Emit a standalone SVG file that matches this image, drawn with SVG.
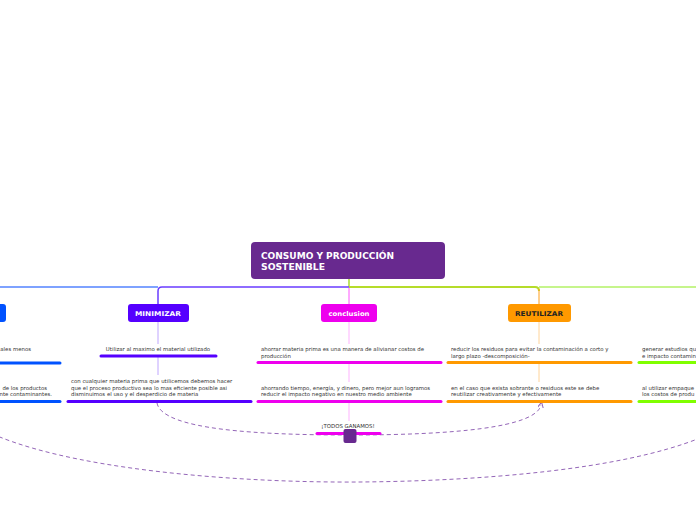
<svg xmlns="http://www.w3.org/2000/svg" width="696" height="520" viewBox="0 0 696 520">
<style>
.t{font-family:"DejaVu Sans","Liberation Sans",Arial,sans-serif;font-size:5.4px;fill:#333}
.n{font-family:"DejaVu Sans","Liberation Sans",Arial,sans-serif;font-weight:bold;font-size:6.6px;fill:#fff;text-anchor:middle}
.h{font-family:"DejaVu Sans","Liberation Sans",Arial,sans-serif;font-weight:bold;font-size:8.4px;fill:#fff}
.bar{stroke-width:3;stroke-linecap:round;fill:none}
.v{stroke-width:1;fill:none}
.dash{fill:none;stroke:#9466b8;stroke-width:1;stroke-dasharray:4,3}
</style>
<defs>
<marker id="ah" markerWidth="6" markerHeight="6" refX="3" refY="3" orient="auto" markerUnits="userSpaceOnUse">
<path d="M0,0 L6,3 L0,6" fill="none" stroke="#9466b8" stroke-width="1"/>
</marker>
</defs>
<rect width="696" height="520" fill="#fff"/>
<g id="connectors">
<path d="M349,279 V287" stroke="#a8d830" stroke-width="1.5" fill="none"/>
<path d="M0,287 H158" stroke="#7ea2ff" stroke-width="2" fill="none"/>
<path d="M349,287 H162 Q158,287 158,291 V304" stroke="#6a3cff" stroke-width="1.5" fill="none"/>
<path d="M349,287 H535 Q539,287 539,291" stroke="#b5dc2a" stroke-width="2" fill="none"/>
<path d="M539,289 V304" stroke="#ff9f1a" stroke-width="1" fill="none"/>
<path d="M539,287 H696" stroke="#c6f58c" stroke-width="2" fill="none"/>
<path d="M349,288 V304" stroke="#ff55ff" stroke-width="1" fill="none"/>
<path class="v" d="M158,322 V344" stroke="#bfa6ff"/>
<path class="v" d="M158,357 V375" stroke="#bfa6ff"/>
<path class="v" d="M349,322 V344" stroke="#ffb3ff"/>
<path class="v" d="M349,363 V382" stroke="#ffb3ff"/>
<path class="v" d="M349,402 V421" stroke="#ffb3ff"/>
<path class="v" d="M539,322 V344" stroke="#ffd49a"/>
<path class="v" d="M539,363 V382" stroke="#ffd49a"/>
<path class="dash" d="M157,403 C162,430 260,435 350,435 C450,435 536,428 541,405" marker-end="url(#ah)"/>
<path class="dash" d="M-20,428 C60,470 240,483 360,482 C480,481 620,470 700,438"/>
</g>
<g id="root">
<rect x="251" y="242" width="194" height="37" rx="4" fill="#68298f"/>
<text class="h" x="261" y="259" textLength="133" lengthAdjust="spacingAndGlyphs">CONSUMO Y PRODUCCIÓN</text>
<text class="h" x="261" y="270" textLength="64" lengthAdjust="spacingAndGlyphs">SOSTENIBLE</text>
</g>
<g id="node-left">
<rect x="-40" y="304" width="46" height="18" rx="3" fill="#0052ff"/>
<text class="t" x="31" y="351" text-anchor="end">ales menos</text>
<path class="bar" d="M-5,363 H60" stroke="#0052ff"/>
<text class="t" x="47" y="390" text-anchor="end">de los productos</text>
<text class="t" x="52" y="396" text-anchor="end">nte contaminantes.</text>
<path class="bar" d="M-5,401.5 H60" stroke="#0052ff"/>
</g>
<g id="node-minimizar">
<rect x="128" y="304" width="61" height="18" rx="3" fill="#5500ff"/>
<text class="n" x="158" y="316" textLength="46" lengthAdjust="spacingAndGlyphs">MINIMIZAR</text>
<text class="t" x="158" y="351" text-anchor="middle">Utilizar al maximo el material utilizado</text>
<path class="bar" d="M101,356 H216" stroke="#5500ff"/>
<text class="t" x="71" y="383">con cualquier materia prima que utilicemos debemos hacer</text>
<text class="t" x="71" y="390">que el proceso productivo sea lo mas eficiente posible asi</text>
<text class="t" x="71" y="396">disminuimos el uso y el desperdicio de materia</text>
<path class="bar" d="M68,401.5 H251" stroke="#5500ff"/>
</g>
<g id="node-conclusion">
<rect x="321" y="304" width="56" height="18" rx="3" fill="#ee00ee"/>
<text class="n" x="349" y="316" textLength="41" lengthAdjust="spacingAndGlyphs">conclusion</text>
<text class="t" x="261" y="351">ahorrar materia prima es una manera de alivianar costos de</text>
<text class="t" x="261" y="358">producción</text>
<path class="bar" d="M258,362.5 H441" stroke="#ee00ee"/>
<text class="t" x="261" y="390">ahorrando tiempo, energía, y dinero, pero mejor aun logramos</text>
<text class="t" x="261" y="396">reducir el impacto negativo en nuestro medio ambiente</text>
<path class="bar" d="M258,401.5 H441" stroke="#ee00ee"/>
</g>
<g id="node-todos">
<text class="t" x="348" y="428" text-anchor="middle">¡TODOS GANAMOS!</text>
<path class="bar" d="M317,433.5 H380" stroke="#ee00ee"/>
<rect x="343.5" y="429" width="13" height="14" rx="2" fill="#68298f"/>
</g>
<g id="node-reutilizar">
<rect x="508" y="304" width="63" height="18" rx="3" fill="#ff9900"/>
<text class="n" x="539" y="316" textLength="48" lengthAdjust="spacingAndGlyphs" style="fill:#222">REUTILIZAR</text>
<text class="t" x="451" y="351">reducir los residuos para evitar la contaminación a corto y</text>
<text class="t" x="451" y="358">largo plazo -descomposición-</text>
<path class="bar" d="M448,362.5 H631" stroke="#ff9900"/>
<text class="t" x="451" y="390">en el caso que exista sobrante o residuos este se debe</text>
<text class="t" x="451" y="396">reutilizar creativamente y efectivamente</text>
<path class="bar" d="M448,401.5 H631" stroke="#ff9900"/>
</g>
<g id="node-right">
<text class="t" x="642" y="351">generar estudios qu</text>
<text class="t" x="642" y="358">e impacto contamin</text>
<path class="bar" d="M639,362.5 H700" stroke="#80ff00"/>
<text class="t" x="642" y="390">al utilizar empaque</text>
<text class="t" x="642" y="396">los costos de produ</text>
<path class="bar" d="M639,401.5 H700" stroke="#80ff00"/>
</g>
</svg>
